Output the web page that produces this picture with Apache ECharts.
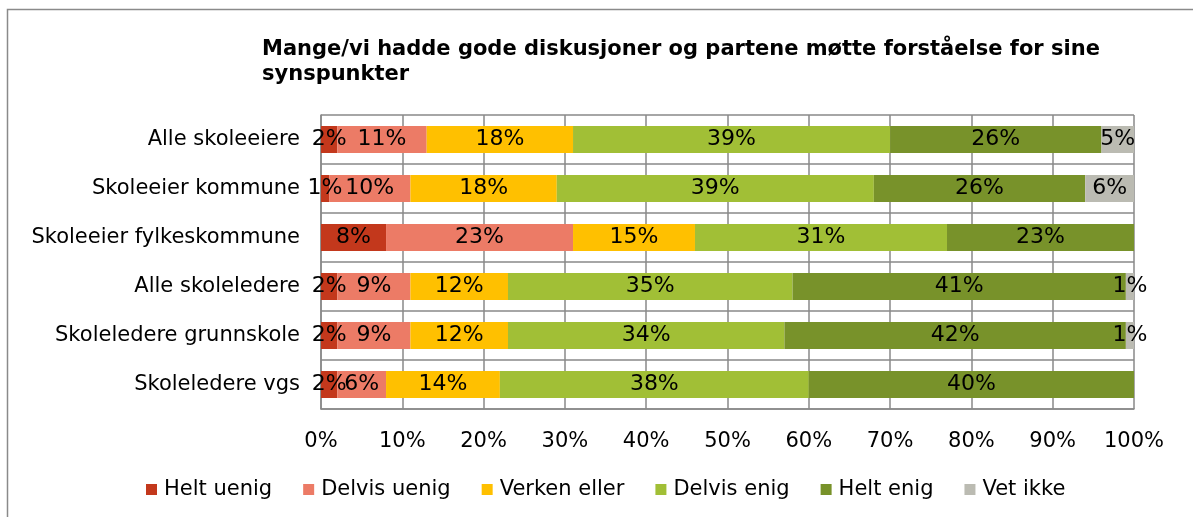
<!DOCTYPE html>
<html>
<head>
<meta charset="utf-8">
<script src="https://cdn.jsdelivr.net/npm/echarts@6/dist/echarts.min.js"></script>
<style>
  html, body { margin: 0; padding: 0; background: #fff; }
  #chart { width: 1193px; height: 517px; }
</style>
</head>
<body>
<div id="chart"></div>
<script>
// categories, top to bottom
const categories = [
  'Alle skoleeiere',
  'Skoleeier kommune',
  'Skoleeier fylkeskommune',
  'Alle skoleledere',
  'Skoleledere grunnskole',
  'Skoleledere vgs'
]

// percent per answer, one value per category
const heltUenig = [2, 1, 8, 2, 2, 2]
const delvisUenig = [11, 10, 23, 9, 9, 6]
const verkenEller = [18, 18, 15, 12, 12, 14]
const delvisEnig = [39, 39, 31, 35, 34, 38]
const heltEnig = [26, 26, 23, 41, 42, 40]
const vetIkke = [5, 6, 0, 1, 1, 0]

const xTicks = [0, 10, 20, 30, 40, 50, 60, 70, 80, 90, 100]

const seriesDefs = [
  { name: 'Helt uenig', data: heltUenig, color: '#C3381C' },
  { name: 'Delvis uenig', data: delvisUenig, color: '#EC7B66' },
  { name: 'Verken eller', data: verkenEller, color: '#FFC000' },
  { name: 'Delvis enig', data: delvisEnig, color: '#A1BF36' },
  { name: 'Helt enig', data: heltEnig, color: '#78922A' },
  { name: 'Vet ikke', data: vetIkke, color: '#BBBBB2' }
]

const font = 'DejaVu Sans, Verdana, sans-serif'
const gridColor = '#898989'

const chart = echarts.init(document.getElementById('chart'), null, { renderer: 'canvas' })

chart.setOption({
  animation: false,
  backgroundColor: '#fff',
  textStyle: { fontFamily: font, color: '#000' },
  graphic: [
    {
      type: 'rect',
      shape: { x: 7.5, y: 9.5, width: 1300, height: 600 },
      style: { fill: 'none', stroke: '#8a8a8a', lineWidth: 1.5 },
      silent: true
    }
  ],
  title: {
    text: 'Mange/vi hadde gode diskusjoner og partene møtte forståelse for sine\nsynspunkter',
    left: 257,
    top: 32,
    textStyle: {
      fontFamily: font,
      fontSize: 21,
      fontWeight: 'bold',
      color: '#000',
      lineHeight: 25
    }
  },
  legend: {
    data: seriesDefs.map(s => s.name),
    left: 141,
    top: 474,
    icon: 'rect',
    itemWidth: 11,
    itemHeight: 11,
    itemGap: 31,
    textStyle: { fontFamily: font, fontSize: 21, color: '#000', padding: [0, 0, 0, 2] }
  },
  grid: {
    left: 321,
    right: 59,
    top: 115,
    bottom: 108
  },
  xAxis: {
    type: 'value',
    min: xTicks[0],
    max: xTicks[xTicks.length - 1],
    interval: 10,
    axisLine: { show: true, lineStyle: { color: gridColor, width: 1.5 } },
    axisTick: { show: false },
    splitLine: { show: true, lineStyle: { color: gridColor, width: 1.5 } },
    axisLabel: {
      formatter: v => v + '%',
      fontFamily: font,
      fontSize: 21,
      color: '#000',
      margin: 22
    }
  },
  yAxis: {
    type: 'category',
    inverse: true,
    data: categories,
    axisLine: { show: true, lineStyle: { color: gridColor, width: 1.5 } },
    axisTick: { show: false },
    splitLine: { show: true, lineStyle: { color: gridColor, width: 1.5 } },
    axisLabel: {
      fontFamily: font,
      fontSize: 21,
      color: '#000',
      margin: 21
    }
  },
  series: seriesDefs.map(s => ({
    name: s.name,
    type: 'bar',
    stack: 'total',
    barCategoryGap: '45%',
    clip: true,
    itemStyle: { color: s.color },
    label: {
      show: true,
      position: 'inside',
      formatter: p => (p.value > 0 ? p.value + '%' : ''),
      fontFamily: font,
      fontSize: 22,
      color: '#000'
    },
    data: s.data
  }))
})
</script>
</body>
</html>
